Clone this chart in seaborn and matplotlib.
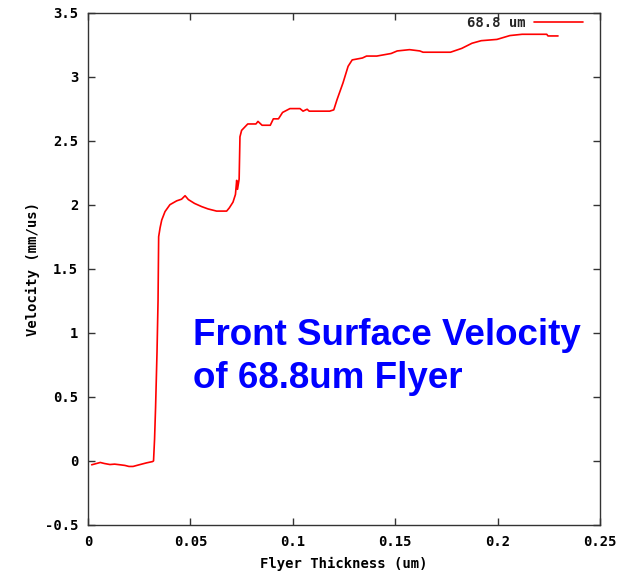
import matplotlib
matplotlib.use("Agg")
import matplotlib.pyplot as plt
import seaborn as sns
import pandas as pd

# Data
thickness = [0.0018, 0.0030, 0.0060, 0.0080, 0.0107, 0.0130, 0.0156, 0.0180, 0.0200, 0.0220,
             0.0250, 0.0286, 0.0315, 0.0320, 0.0325, 0.0330, 0.0337, 0.0342, 0.0345, 0.0352,
             0.0360, 0.0376, 0.0400, 0.0433, 0.0457, 0.0474, 0.0490, 0.0520, 0.0555, 0.0586,
             0.0628, 0.0677, 0.0690, 0.0708, 0.0720, 0.0726, 0.0730, 0.0738, 0.0742, 0.0750,
             0.0780, 0.0820, 0.0830, 0.0850, 0.0890, 0.0905, 0.0930, 0.0950, 0.0986, 0.1035,
             0.1050, 0.1070, 0.1080, 0.1180, 0.1200, 0.1216, 0.1245, 0.1270, 0.1290, 0.1340,
             0.1360, 0.1410, 0.1480, 0.1510, 0.1570, 0.1620, 0.1636, 0.1770, 0.1825, 0.1875,
             0.1920, 0.1997, 0.2060, 0.2120, 0.2240, 0.2246, 0.2295]
velocity = [-0.030, -0.025, -0.012, -0.020, -0.028, -0.025, -0.030, -0.035, -0.043, -0.043,
            -0.030, -0.015, -0.005, 0.000, 0.170, 0.420, 0.850, 1.250, 1.750, 1.820,
            1.880, 1.946, 2.000, 2.030, 2.043, 2.070, 2.040, 2.010, 1.985, 1.967,
            1.950, 1.950, 1.975, 2.020, 2.080, 2.190, 2.120, 2.200, 2.530, 2.580,
            2.630, 2.630, 2.650, 2.620, 2.620, 2.670, 2.670, 2.720, 2.750, 2.750,
            2.730, 2.745, 2.730, 2.730, 2.740, 2.820, 2.950, 3.080, 3.130, 3.145,
            3.160, 3.160, 3.180, 3.200, 3.210, 3.200, 3.190, 3.190, 3.220, 3.260,
            3.280, 3.290, 3.320, 3.330, 3.330, 3.317, 3.317]
series_label = "68.8 um"
x_ticks = [0, 0.05, 0.1, 0.15, 0.2, 0.25]
x_tick_labels = ["0", "0.05", "0.1", "0.15", "0.2", "0.25"]
y_ticks = [-0.5, 0, 0.5, 1, 1.5, 2, 2.5, 3, 3.5]
y_tick_labels = ["-0.5", "0", "0.5", "1", "1.5", "2", "2.5", "3", "3.5"]

sns.set_theme(style="white")
plt.rcParams['font.family'] = ['DejaVu Sans Mono', 'DejaVu Sans']

df = pd.DataFrame({"x": thickness, "y": velocity, "s": series_label})

fig = plt.figure(figsize=(6.27, 5.72), dpi=100)
ax = fig.add_axes([88/627, 1 - 525/572, 512/627, 512.5/572])

sns.lineplot(data=df, x="x", y="y", hue="s", palette=["#ff0000"], sort=False,
             estimator=None, linewidth=1.2, ax=ax)

ax.set_xlim(0, 0.25)
ax.set_ylim(-0.5, 3.5)
ax.set_xticks(x_ticks)
ax.set_xticklabels(x_tick_labels)
ax.set_yticks(y_ticks)
ax.set_yticklabels(y_tick_labels)

FS = 10
tick_font = dict(family='DejaVu Sans Mono', weight='bold', size=FS)
for lbl in ax.get_xticklabels() + ax.get_yticklabels():
    lbl.set_fontfamily('DejaVu Sans Mono')
    lbl.set_fontweight('bold')
    lbl.set_fontsize(FS)
    lbl.set_color('black')

ax.tick_params(axis='both', which='both', direction='in', length=5, width=1,
               color='#333333', top=True, right=True, bottom=True, left=True,
               labeltop=False, labelright=False)
ax.tick_params(axis='x', pad=7)
ax.tick_params(axis='y', pad=7)

for sp in ax.spines.values():
    sp.set_visible(True)
    sp.set_color('#333333')
    sp.set_linewidth(1.0)

ax.set_xlabel("Flyer Thickness (um)", fontdict=tick_font, labelpad=6, color='black')
ax.set_ylabel("Velocity (mm/us)", fontdict=tick_font, labelpad=3.5, color='black')
ax.grid(False)

leg = ax.legend(loc='upper right', bbox_to_anchor=((583 - 88) / 512, 0.993),
                frameon=False, markerfirst=False, borderpad=0, borderaxespad=0,
                handlelength=3.5, handletextpad=0.6,
                prop=dict(family='DejaVu Sans Mono', weight='bold', size=FS))
for line in leg.get_lines():
    line.set_linewidth(1.2)

title_kw = dict(color='#0000ff', fontsize=26.5, fontweight='bold',
                family=['Liberation Sans', 'DejaVu Sans'], va='baseline', ha='left')
fig.text(193/627, 1 - 345/572, "Front Surface Velocity", **title_kw)
fig.text(193/627, 1 - 388/572, "of 68.8um Flyer", **title_kw)

fig.savefig("out.png", dpi=100)
